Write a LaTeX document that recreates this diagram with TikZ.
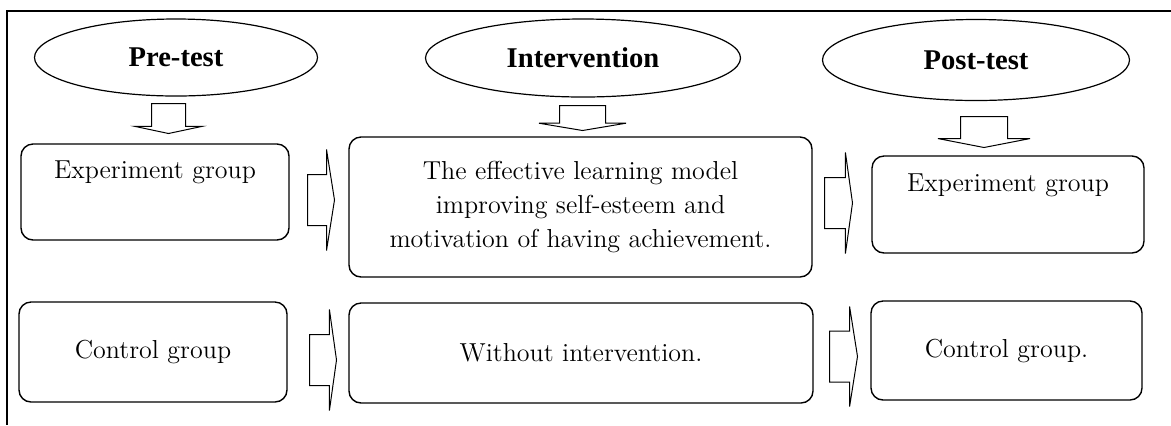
\documentclass[tikz,border=0pt]{standalone}
\usepackage{fontspec}
\newfontfamily\headfont{Liberation Serif}
\usetikzlibrary{shapes.geometric, shapes.arrows}
\tikzset{%
	phase/.style={draw, ellipse, inner sep=0mm, line width=0.6pt,%
		font=\headfont\bfseries\fontsize{14.3}{17}\selectfont},
	group/.style={draw, rectangle, rounded corners=6pt, align=center,%
		inner sep=0mm, line width=0.7pt, font=\fontsize{13}{17}\selectfont},
	blockarrow/.style 2 args={single arrow, draw, line width=0.5pt, inner xsep=0pt,%
		anchor=tail, minimum height=#1, inner ysep=#2},
	frame/.style={line width=0.8pt}
}
\begin{document}
\begin{tikzpicture}[x=0.5pt, y=-0.5pt]
	\useasboundingbox (0,0) rectangle (1171,425);
	\draw[frame] (1171,11) -- (7,11) -- (7,425);

	\node[phase, minimum width=141.5pt, minimum height=38.5pt] (pre)   at (176,57.5) {Pre-test};
	\node[phase, minimum width=157.5pt, minimum height=39pt]   (inter) at (583,58)   {Intervention};
	\node[phase, minimum width=153.5pt, minimum height=40.5pt] (post)  at (976,60)   {Post-test};

	\node[group, minimum width=134pt, minimum height=48pt]     (exp1)  at (155,192)    {Experiment group\\\strut};
	\node[group, minimum width=231.5pt, minimum height=70pt]   (model) at (580.5,207)  {The effective learning model\\improving self-esteem and\\motivation of having achievement.};
	\node[group, minimum width=136pt, minimum height=48.5pt]   (exp2)  at (1008,204.5) {Experiment group\\\strut};
	\node[group, minimum width=134pt, minimum height=50pt]     (ctrl1) at (153,352)    {Control group};
	\node[group, minimum width=232pt, minimum height=50pt]     (none)  at (581,353)    {Without intervention.};
	\node[group, minimum width=135.5pt, minimum height=49.5pt] (ctrl2) at (1006.5,350.5) {Control group.};

	% down arrows under the phases
	\node[blockarrow={15pt}{8.25pt}, rotate=-90, single arrow head extend=8.25pt, single arrow tip angle=156] (d1) at (168.5,103) {};
	\node[blockarrow={12.5pt}{11.25pt}, rotate=-90, single arrow head extend=10.25pt, single arrow tip angle=161] (d2) at (582.5,105) {};
	\node[blockarrow={15.5pt}{11.5pt}, rotate=-90, single arrow head extend=11.25pt, single arrow tip angle=158] (d3) at (984,116) {};

	% arrows between the groups
	\node[blockarrow={13.5pt}{12.5pt}, single arrow head extend=12.5pt, single arrow tip angle=162] (r1) at (307,200) {};
	\node[blockarrow={14pt}{12.5pt}, single arrow head extend=12.5pt, single arrow tip angle=164] (r2) at (824,203) {};
	\node[blockarrow={13.5pt}{12.5pt}, single arrow head extend=12.5pt, single arrow tip angle=164] (r3) at (309,360) {};
	\node[blockarrow={14pt}{12.5pt}, single arrow head extend=12.25pt, single arrow tip angle=162] (r4) at (829,356.5) {};
\end{tikzpicture}
\end{document}
